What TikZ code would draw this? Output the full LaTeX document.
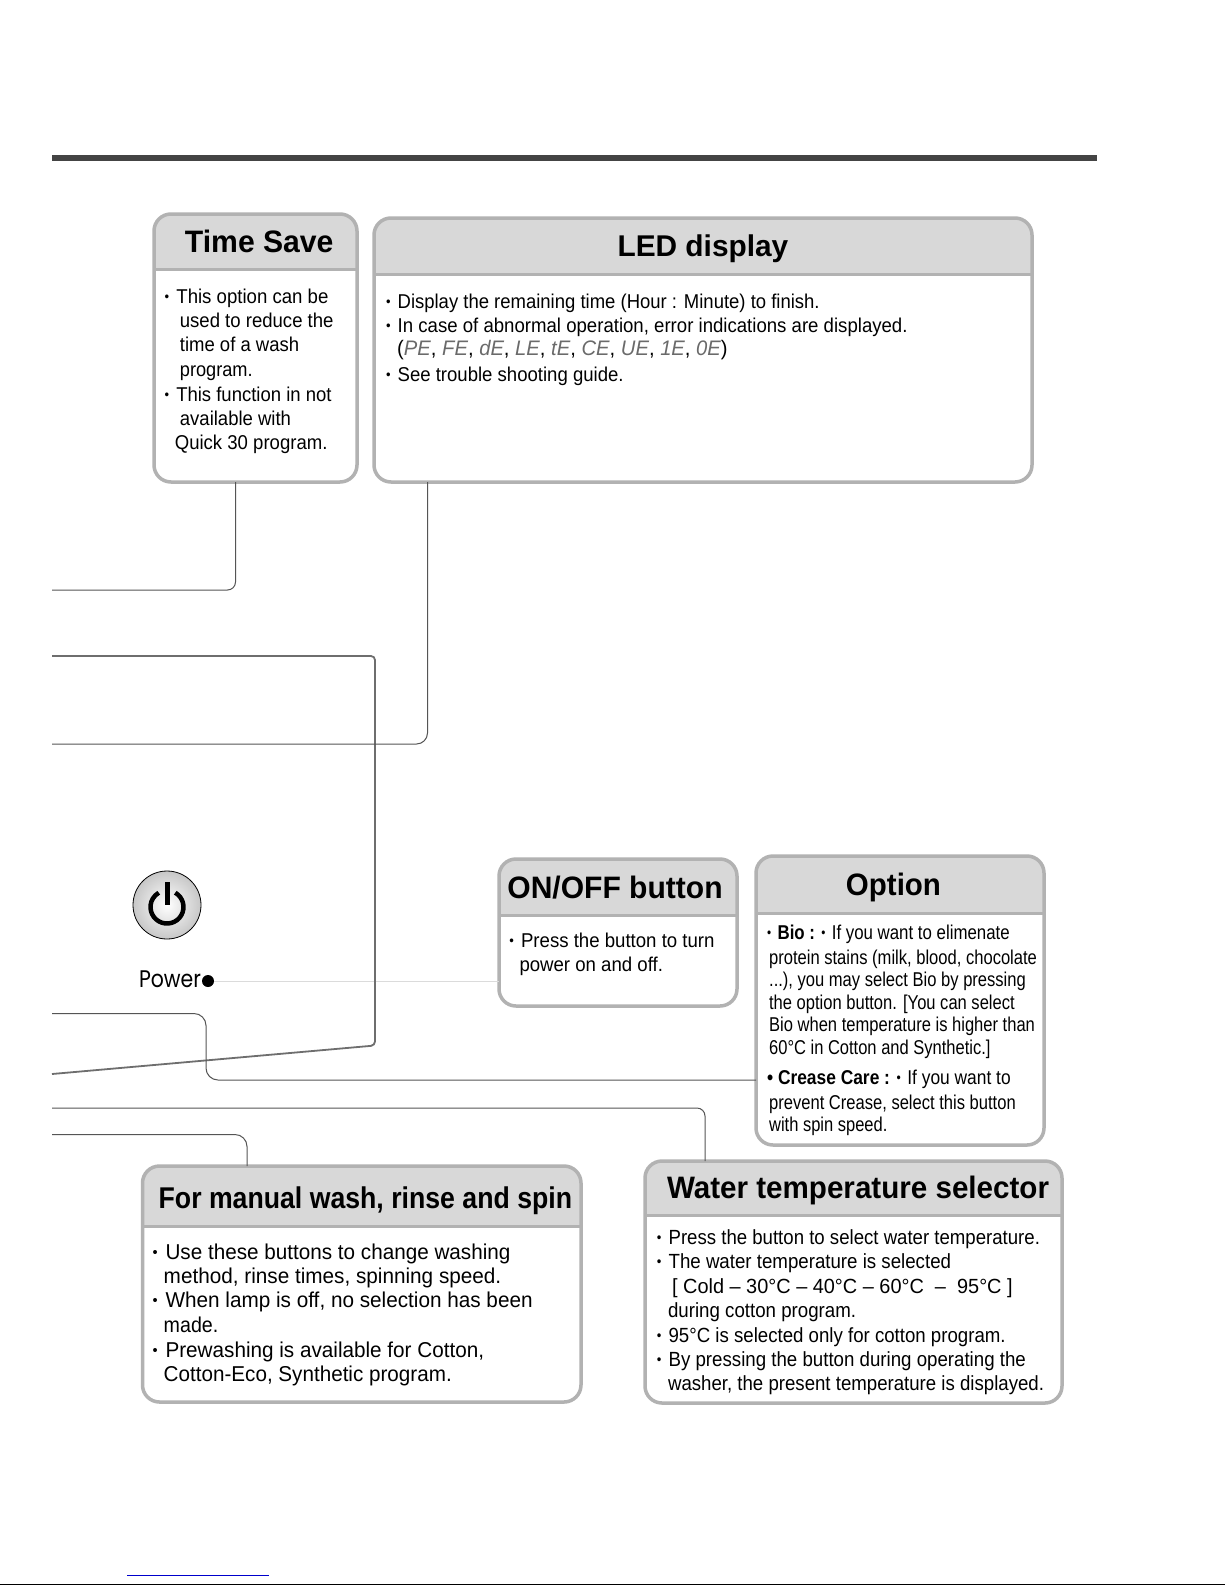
\documentclass[tikz,border=0pt]{standalone}
\usepackage{fontspec}
\usepackage{graphicx}
\setmainfont{Liberation Sans}
\newfontfamily\powerfont{Poppins}
\definecolor{panelrim}{HTML}{B2B2B2}
\definecolor{panelhead}{HTML}{D8D8D8}
\definecolor{conndark}{HTML}{555555}
\definecolor{barcol}{HTML}{444444}
\definecolor{ledgrey}{HTML}{6A6A6A}
\newsavebox\tlbox
\newcounter{tlc}
\newcommand\bu{\raisebox{.1em}{\scalebox{.7}{•}}\hspace{.38em}}
\newcommand\hb{\bfseries}
% shown coords: xleft xright baseline size text
\newcommand\tline[5]{%
 \stepcounter{tlc}%
 \node[txt] (tl\thetlc) at ({#1*1.0107},{#3*1.0107}) {%
   \sbox\tlbox{\fontsize{#4}{#4}\selectfont #5}%
   \pgfmathsetmacro\tlr{(#2-#1)*1.0107/(\the\wd\tlbox)}%
   \scalebox{\tlr}[1]{\usebox\tlbox}};%
}
\newcommand\panel[6]{% name x1 y1 x2 y2 ybar
 \pgfmathsetmacro\pw{#4-#2}\pgfmathsetmacro\ph{#5-#3}\pgfmathsetmacro\pbar{#6-(#3+#5)/2}%
 \node[panelbox,minimum width=\pw pt,minimum height=\ph pt,
   path picture={\fill[panelhead] (-\pw,-\ph) rectangle (\pw,\pbar);
                 \draw[panelrim,line width=3pt] (-\pw,\pbar) -- (\pw,\pbar);}]
   (#1) at ({(#2+#4)/2},{(#3+#5)/2}) {};%
}
\tikzset{
 txt/.style={anchor=base west,inner sep=0pt,outer sep=0pt},
 panelbox/.style={draw=panelrim,line width=3.5pt,fill=white,rounded corners=17pt,inner sep=0pt,outer sep=0pt},
 conn/.style={draw=conndark,line width=1pt,rounded corners=8pt},
 connheavy/.style={draw=conndark!85,line width=1.8pt,rounded corners=4pt},
 connlight/.style={draw=black!14,line width=1pt},
}
\begin{document}
\begin{tikzpicture}[x=1pt,y=-1pt]
\useasboundingbox (0,0) rectangle (1225,1585);
\fill[white] (0,0) rectangle (1225,1585);
\fill[barcol] (52,155) rectangle (1097,161);

% panels
\panel{tsave}{154}{214}{357}{482}{269}
\panel{led}{374}{218}{1032}{482}{274}
\panel{onoff}{499}{859}{737}{1006}{915}
\panel{opt}{756}{856}{1044}{1145}{913}
\panel{manual}{142.5}{1166}{581}{1402}{1226}
\panel{water}{645}{1161}{1062}{1403}{1215}

% connector bends and free ends
\coordinate (c1) at (235.5,590); \coordinate (e1) at (52,590);
\coordinate (c2a) at (375,656); \coordinate (e2a) at (52,656);
\coordinate (c2b) at (375,1045.5); \coordinate (e2b) at (52,1074);
\coordinate (c3) at (427.5,744); \coordinate (e3) at (52,744);
\coordinate (c4a) at (206,1080); \coordinate (c4b) at (206,1013.5); \coordinate (e4) at (52,1013.5);
\coordinate (c5) at (705,1108); \coordinate (e5) at (52,1108);
\coordinate (c6) at (247,1134.5); \coordinate (e6) at (52,1134.5);

% power button
\node[circle,draw=black,line width=.8pt,minimum size=68pt,inner sep=0pt,
      inner color=white,outer color=black!22] (pwr) at (167,905) {};
\coordinate (pwrring) at (167,907);
\draw[black,line width=4.5pt] (pwrring) ++(60:16.5pt) arc[start angle=60,end angle=-240,radius=16.5pt];
\draw[black,line width=5pt] (167,882) -- (167,905);
\stepcounter{tlc}
\node[txt] (pwrlabel) at (139,987) {\sbox\tlbox{\powerfont\fontsize{24}{24}\selectfont Power}\pgfmathsetmacro\tlr{62/(\the\wd\tlbox)}\scalebox{\tlr}[1]{\usebox\tlbox}};
\node[circle,fill=black,minimum size=12pt,inner sep=0pt] (pwrdot) at (208,981) {};

% connectors
\draw[connlight] (pwrdot.east) -- (pwrdot.east -| onoff.west);
\draw[conn] (tsave.south -| c1) -- (c1) -- (e1);
\draw[connheavy] (e2a) -- (c2a) -- (c2b) -- (e2b);
\draw[conn,rounded corners=11pt] (led.south -| c3) -- (c3) -- (e3);
\draw[conn,rounded corners=12pt] (opt.west |- c4a) -- (c4a) -- (c4b) -- (e4);
\draw[conn] (water.north -| c5) -- (c5) -- (e5);
\draw[conn,rounded corners=12pt] (manual.north -| c6) -- (c6) -- (e6);

% headers
\tline{183}{330}{250}{31}{\hb Time Save}
\tline{611}{780}{254}{30}{\hb LED display}
\tline{502}{715}{889}{31}{\hb ON/OFF button}
\tline{837}{931}{886}{31}{\hb Option}
\tline{157}{566}{1196}{30}{\hb For manual wash, rinse and spin}
\tline{660}{1038}{1186}{31}{\hb Water temperature selector}

% Time Save
\tline{163}{325}{300}{20}{\bu This option can be}
\tline{178}{330}{324}{20}{used to reduce the}
\tline{178}{296}{348}{20}{time of a wash}
\tline{178}{250}{373}{20}{program.}
\tline{163}{328}{397}{20}{\bu This function in not}
\tline{178}{288}{421}{20}{available with}
\tline{173}{324}{445}{20}{Quick 30 program.}

% LED
\tline{382}{811}{305}{20}{\bu Display the remaining time (Hour : Minute) to finish.}
\tline{382}{898}{329}{20}{\bu In case of abnormal operation, error indications are displayed.}
\tline{393}{720}{352}{21}{(\textcolor{ledgrey}{\itshape PE}, \textcolor{ledgrey}{\itshape FE}, \textcolor{ledgrey}{\itshape dE}, \textcolor{ledgrey}{\itshape LE}, \textcolor{ledgrey}{\itshape tE}, \textcolor{ledgrey}{\itshape CE}, \textcolor{ledgrey}{\itshape UE}, \textcolor{ledgrey}{\itshape 1E}, \textcolor{ledgrey}{\itshape 0E})}
\tline{382}{617}{377}{20}{\bu See trouble shooting guide.}

% ON/OFF
\tline{504}{707}{937}{20}{\bu Press the button to turn}
\tline{514}{656}{961}{20}{power on and off.}

% Option
\tline{759}{999}{930}{20}{\bu \textbf{Bio :} \bu If you want to elimenate}
\tline{761}{1026}{954}{20}{protein stains (milk, blood, chocolate}
\tline{761}{1015}{976}{20}{...), you may select Bio by pressing}
\tline{761}{1004}{999}{20}{the option button. [You can select}
\tline{761}{1024}{1021}{20}{Bio when temperature is higher than}
\tline{761}{980}{1043}{20}{60°C in Cotton and Synthetic.]}
\tline{759}{1000}{1073}{20}{\textbf{• Crease Care :} \bu If you want to}
\tline{761}{1005}{1098}{20}{prevent Crease, select this button}
\tline{761}{878}{1120}{20}{with spin speed.}

% manual
\tline{151}{505}{1246}{21.5}{\bu Use these buttons to change washing}
\tline{162}{496}{1270}{21.5}{method, rinse times, spinning speed.}
\tline{151}{527}{1294}{21.5}{\bu When lamp is off, no selection has been}
\tline{162}{216}{1318}{21.5}{made.}
\tline{151}{479}{1343}{21.5}{\bu Prewashing is available for Cotton,}
\tline{162}{447}{1367}{21.5}{Cotton-Eco, Synthetic program.}

% Water
\tline{650}{1029}{1231}{20.5}{\bu Press the button to select water temperature.}
\tline{650}{941}{1255}{20.5}{\bu The water temperature is selected}
\tline{665}{1002}{1280}{20.5}{[ Cold – 30°C – 40°C – 60°C \ – \ 95°C ]}
\tline{661}{847}{1304}{20.5}{during cotton program.}
\tline{650}{995}{1328}{20.5}{\bu 95°C is selected only for cotton program.}
\tline{650}{1015}{1352}{20.5}{\bu By pressing the button during operating the}
\tline{661}{1033}{1376}{20.5}{washer, the present temperature is displayed.}

% page rules
\draw[blue!80!black,line width=1pt] (127,1575) -- (269,1575);
\draw[black,line width=1.2pt] (0,1584.4) -- (1225,1584.4);
\end{tikzpicture}
\end{document}
